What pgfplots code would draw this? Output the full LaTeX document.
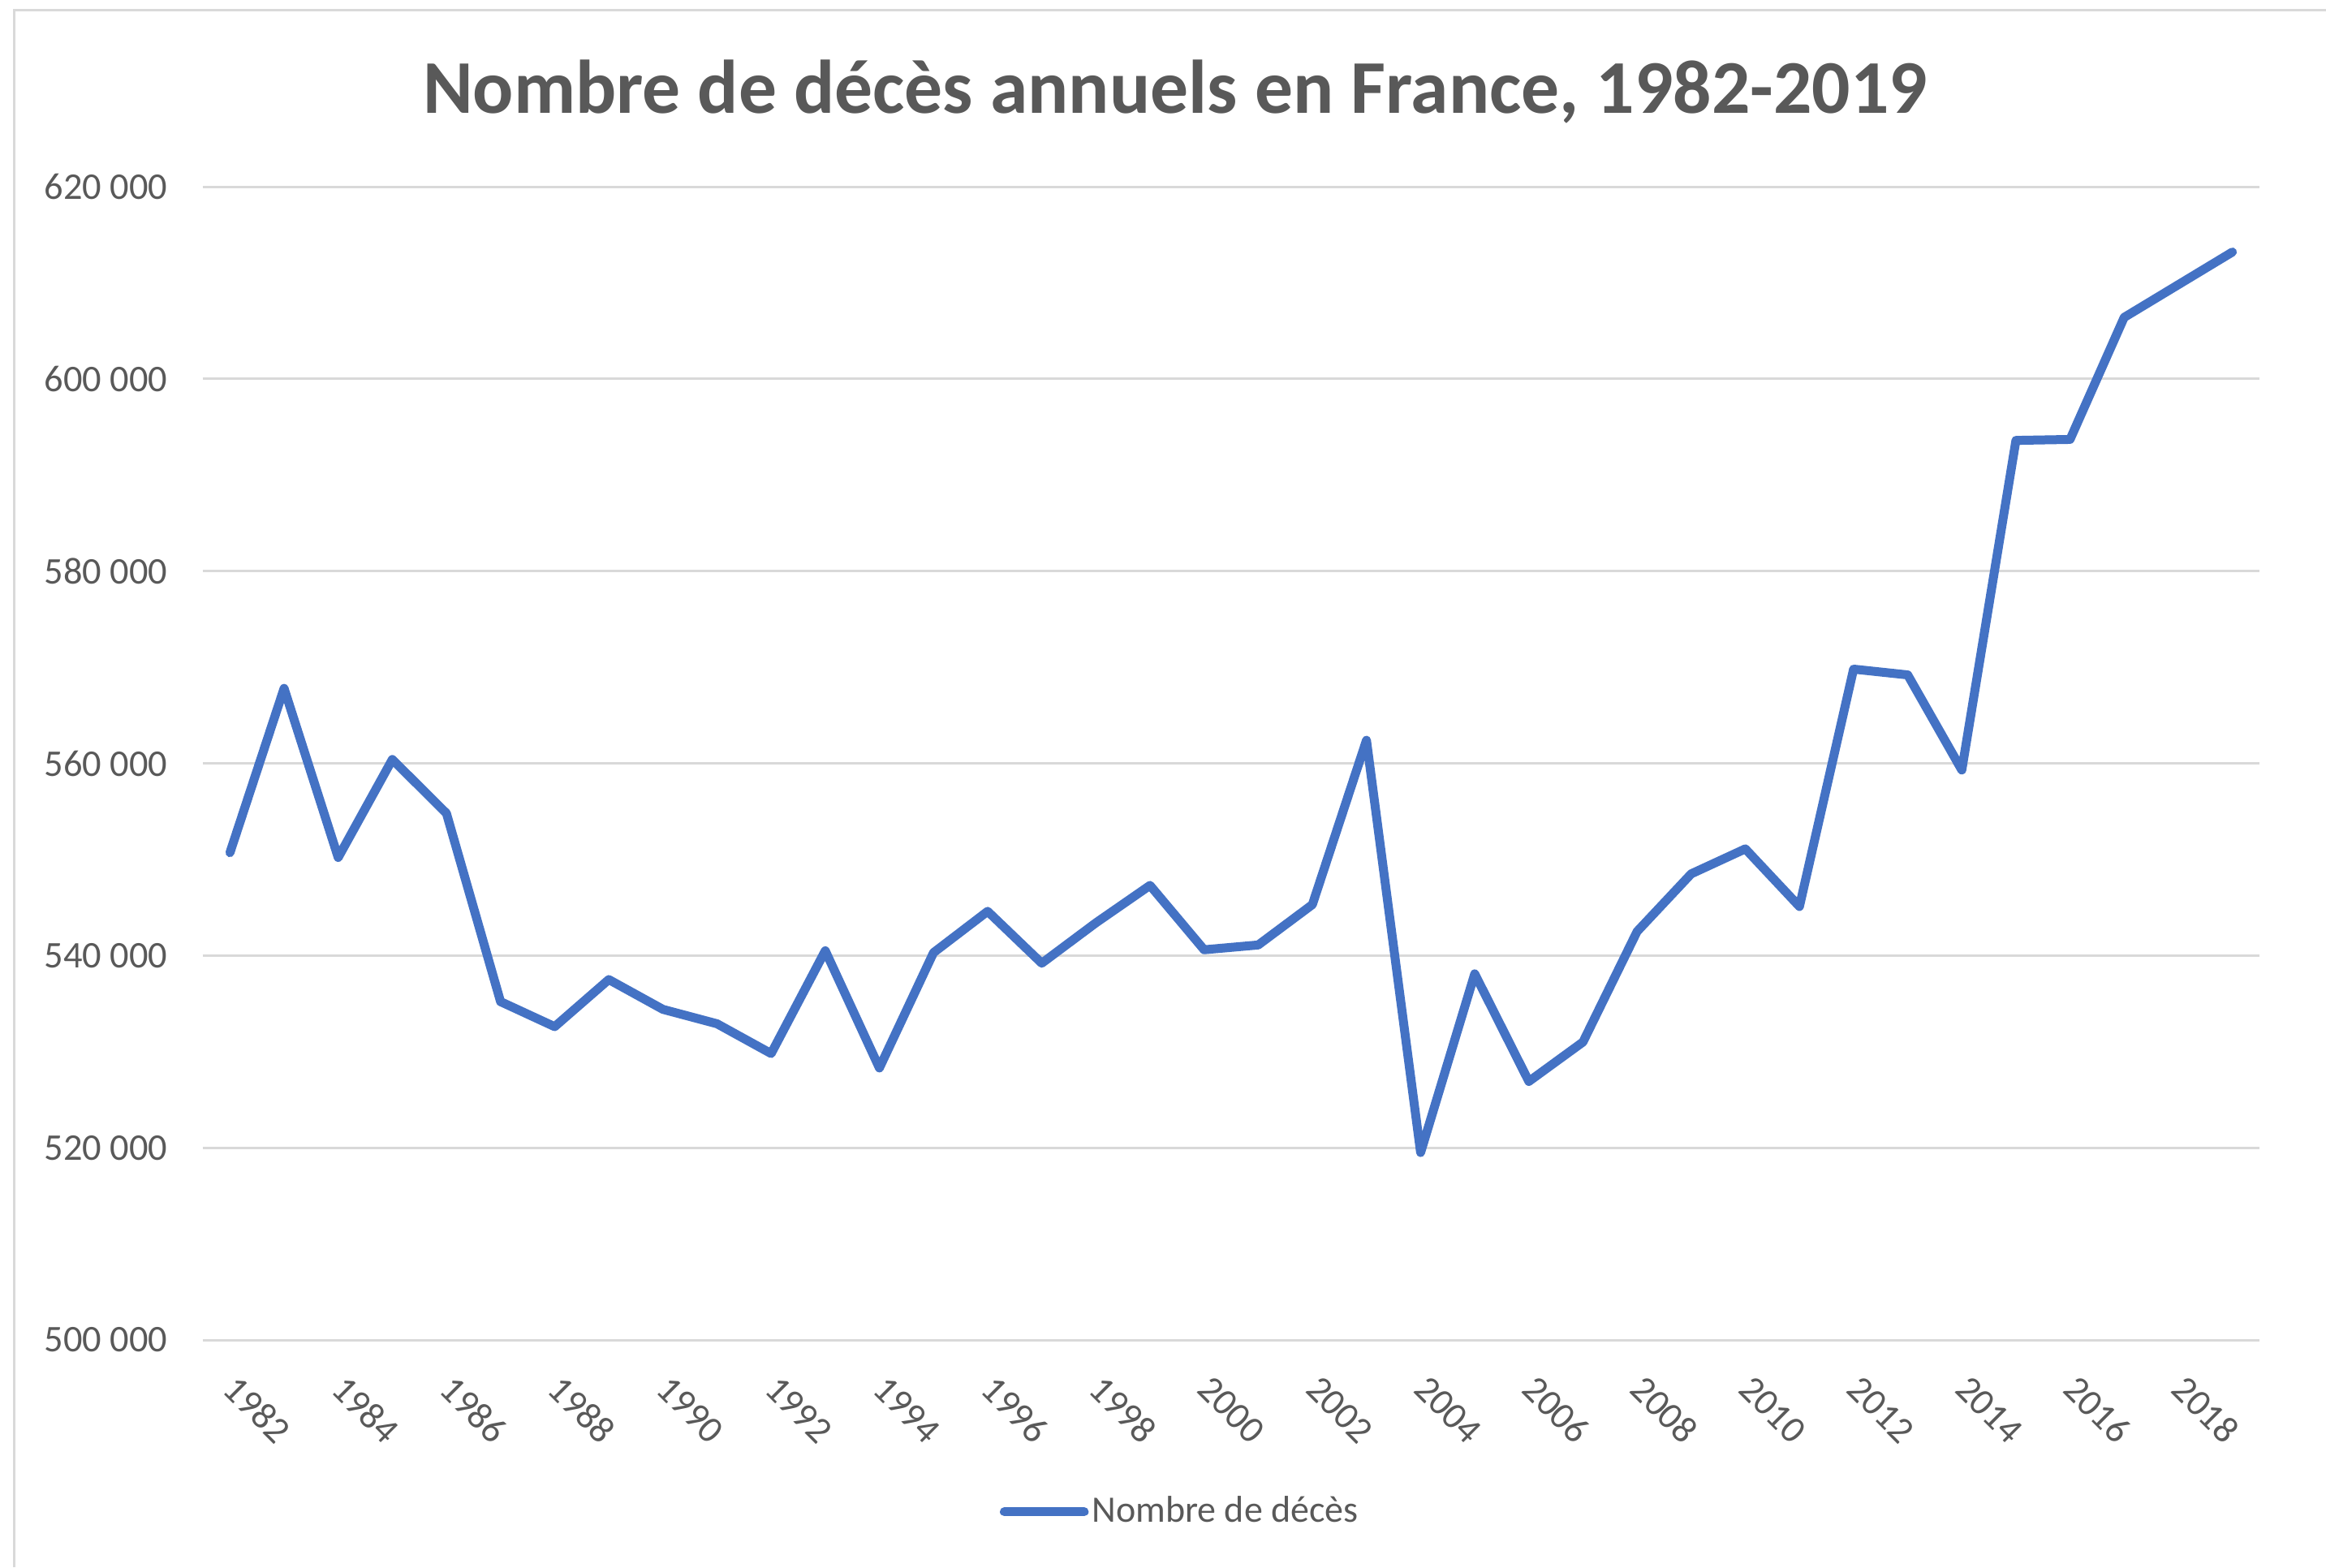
\documentclass[border=0pt]{standalone}
\usepackage{pgfplots}
\pgfplotsset{compat=1.18}
\usepackage{fontspec}
\setmainfont{Carlito}
\definecolor{txt}{HTML}{595959}
\definecolor{gridc}{HTML}{D9D9D9}
\definecolor{linec}{HTML}{4472C4}
\begin{document}
\begin{tikzpicture}
\useasboundingbox (-62.5pt,-70pt) rectangle (654pt,412.75pt);
\draw[gridc, line width=0.75pt] (-58pt,-70pt) -- (-58pt,409.5pt) -- (654pt,409.5pt);
\node[font=\fontsize{23.4}{28}\selectfont\bfseries, text=txt] at (299.5pt,384.5pt) {Nombre de décès annuels en France, 1982-2019};
\begin{axis}[
  at={(0,0)}, anchor=south west, scale only axis,
  width=633.5pt, height=355.25pt,
  xmin=1981.5, xmax=2019.5, ymin=500000, ymax=620000,
  axis line style={draw=none},
  major tick length=0pt,
  ymajorgrids,
  grid style={gridc, line width=0.75pt},
  ytick={500000,520000,540000,560000,580000,600000,620000},
  yticklabels={500~000,520~000,540~000,560~000,580~000,600~000,620~000},
  xtick={1982,1984,1986,1988,1990,1992,1994,1996,1998,2000,2002,2004,2006,2008,2010,2012,2014,2016,2018},
  xticklabels={1982,1984,1986,1988,1990,1992,1994,1996,1998,2000,2002,2004,2006,2008,2010,2012,2014,2016,2018},
  scaled y ticks=false,
  tick label style={font=\fontsize{11.6}{13}\selectfont, text=txt},
  yticklabel style={anchor=east, inner sep=0pt, xshift=-10.75pt},
  xticklabel style={rotate=-45, anchor=west, inner sep=0pt},
  xticklabel shift=13pt,
  legend style={at={(axis description cs:0.4755,-0.149)}, anchor=center, draw=none, fill=none,
    font=\fontsize{11.5}{13}\selectfont, text=txt, nodes={inner sep=1pt}},
  legend image code/.code={\draw[#1, line width=2.75pt, line cap=round] (1.4pt,0pt) -- (26pt,0pt);},
]
\addplot[linec, line width=2.75pt, line join=round, line cap=round] coordinates {
(1982,550700) (1983,567800) (1984,550200) (1985,560400) (1986,554800)
(1987,535200) (1988,532600) (1989,537500) (1990,534400) (1991,532900)
(1992,529800) (1993,540500) (1994,528300) (1995,540300) (1996,544600)
(1997,539200) (1998,543400) (1999,547300) (2000,540600) (2001,541100)
(2002,545300) (2003,562400) (2004,519500) (2005,538100) (2006,526900)
(2007,531000) (2008,542500) (2009,548500) (2010,551100) (2011,545100)
(2012,569800) (2013,569200) (2014,559300) (2015,593600) (2016,593700)
(2017,606400) (2018,609800) (2019,613200)
};
\addlegendentry{Nombre de décès}
\end{axis}
\end{tikzpicture}
\end{document}
